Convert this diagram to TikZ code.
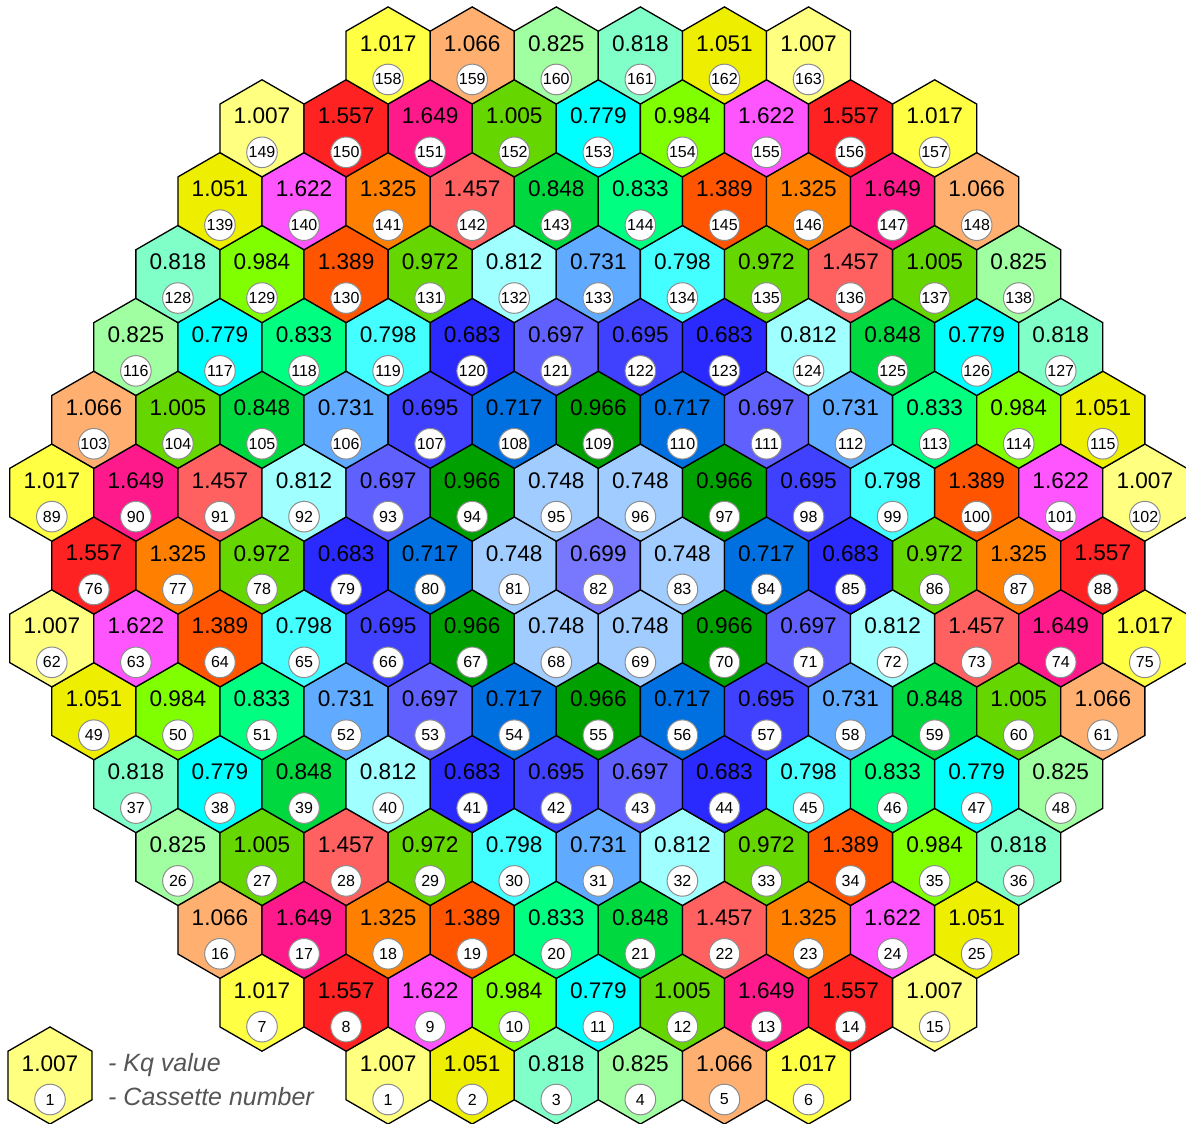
\documentclass[tikz,border=0pt]{standalone}
\usepackage{fontspec}
\setmainfont{Liberation Sans}
% one colour per Kq value
\definecolor{kq1017}{HTML}{FFFF44}
\definecolor{kq1007}{HTML}{FFFF80}
\definecolor{kq1051}{HTML}{EEEE00}
\definecolor{kq1066}{HTML}{FFB070}
\definecolor{kq0825}{HTML}{A0FFA0}
\definecolor{kq0818}{HTML}{80FFC8}
\definecolor{kq1557}{HTML}{FF2222}
\definecolor{kq1649}{HTML}{FF1A8C}
\definecolor{kq1005}{HTML}{66D600}
\definecolor{kq0972}{HTML}{66D600}
\definecolor{kq0779}{HTML}{00FFFF}
\definecolor{kq0984}{HTML}{80FF00}
\definecolor{kq1622}{HTML}{FF55FF}
\definecolor{kq1325}{HTML}{FF8000}
\definecolor{kq1457}{HTML}{FF6060}
\definecolor{kq0848}{HTML}{00D840}
\definecolor{kq0833}{HTML}{00FF80}
\definecolor{kq1389}{HTML}{FF5500}
\definecolor{kq0812}{HTML}{A0FFFF}
\definecolor{kq0731}{HTML}{60AAFF}
\definecolor{kq0798}{HTML}{44FFFF}
\definecolor{kq0683}{HTML}{2A2AFF}
\definecolor{kq0697}{HTML}{6060FF}
\definecolor{kq0695}{HTML}{4040FF}
\definecolor{kq0717}{HTML}{0070E0}
\definecolor{kq0966}{HTML}{00A000}
\definecolor{kq0748}{HTML}{A0CCFF}
\definecolor{kq0699}{HTML}{7878FF}
\definecolor{legendgray}{HTML}{555555}
\definecolor{ringgray}{HTML}{8C8C8C}
\tikzset{
 hexcell/.style={draw=black,line width=1.3pt,line join=miter},
 kqval/.style={font=\fontsize{22.6}{26}\selectfont,inner sep=0pt},
 cassno/.style={circle,draw=ringgray,fill=white,line width=1pt,minimum size=30.6pt,inner sep=0pt,font=\fontsize{16}{18}\selectfont},
 legendtext/.style={font=\fontsize{25}{29}\selectfont\itshape,text=legendgray,anchor=west,inner sep=0pt}
}
\newcount\cassno
\def\kqsplit#1#2#3#4{#1.#2#3#4}
\newcommand{\hexat}[2]{(#1,#2) +(90:48.55) -- +(150:48.55) -- +(210:48.55) -- +(270:48.55) -- +(330:48.55) -- +(30:48.55) -- cycle}

\begin{document}
\begin{tikzpicture}[x=1pt,y=-1pt]
  \useasboundingbox (0,0) rectangle (1186,1124);

  % rows from the bottom: row / first half-column / Kq values
  \global\cassno=0
  \foreach \row/\first/\vals in {
    1/8/{1007,1051,0818,0825,1066,1017},
    2/5/{1017,1557,1622,0984,0779,1005,1649,1557,1007},
    3/4/{1066,1649,1325,1389,0833,0848,1457,1325,1622,1051},
    4/3/{0825,1005,1457,0972,0798,0731,0812,0972,1389,0984,0818},
    5/2/{0818,0779,0848,0812,0683,0695,0697,0683,0798,0833,0779,0825},
    6/1/{1051,0984,0833,0731,0697,0717,0966,0717,0695,0731,0848,1005,1066},
    7/0/{1007,1622,1389,0798,0695,0966,0748,0748,0966,0697,0812,1457,1649,1017},
    8/1/{1557,1325,0972,0683,0717,0748,0699,0748,0717,0683,0972,1325,1557},
    9/0/{1017,1649,1457,0812,0697,0966,0748,0748,0966,0695,0798,1389,1622,1007},
    10/1/{1066,1005,0848,0731,0695,0717,0966,0717,0697,0731,0833,0984,1051},
    11/2/{0825,0779,0833,0798,0683,0697,0695,0683,0812,0848,0779,0818},
    12/3/{0818,0984,1389,0972,0812,0731,0798,0972,1457,1005,0825},
    13/4/{1051,1622,1325,1457,0848,0833,1389,1325,1649,1066},
    14/5/{1007,1557,1649,1005,0779,0984,1622,1557,1017},
    15/8/{1017,1066,0825,0818,1051,1007}}{
    \foreach \v [count=\i from 0] in \vals {
      \global\advance\cassno by 1
      \edef\n{\the\cassno}
      \pgfmathsetmacro\cx{51.8+42.04*(\first+2*\i)}
      \pgfmathsetmacro\cy{1075.5-72.86*(\row-1)}
      \draw[hexcell,fill=kq\v] \hexat{\cx}{\cy};
      \node[kqval] (val\n) at (\cx,\cy-12.2) {\expandafter\kqsplit\v};
      \node[cassno] (cas\n) at (\cx,\cy+24) {\n};
    }
  }

  % legend
  \draw[hexcell,fill=kq1007] \hexat{50}{1075.5};
  \node[kqval] (legval) at (50,1063.3) {1.007};
  \node[cassno] (legno) at (50,1099.5) {1};
  \node[legendtext] (legkq) at (108,1065) {- Kq value};
  \node[legendtext] (legcas) at (108,1097) {- Cassette number};
\end{tikzpicture}
\end{document}
